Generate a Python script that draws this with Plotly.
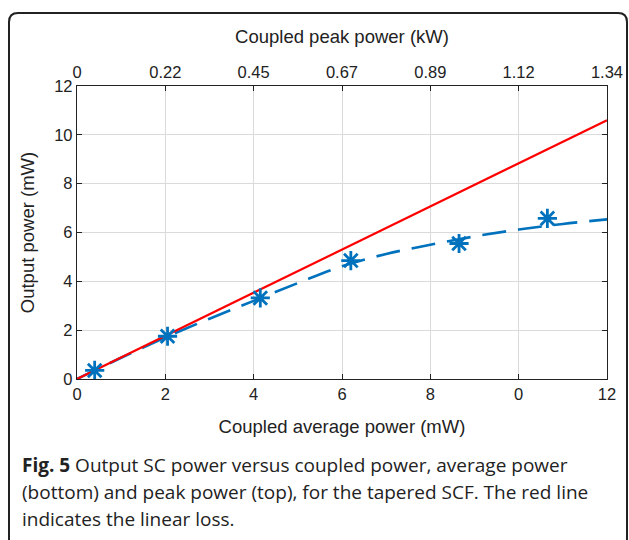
import plotly.graph_objects as go

# ---- data ----
avg_ticks = [0, 2, 4, 6, 8, 10, 12]
avg_ticktext = ["0", "2", "4", "6", "8", "0", "12"]
peak_ticktext = ["0", "0.22", "0.45", "0.67", "0.89", "1.12", "1.34"]
y_ticks = [0, 2, 4, 6, 8, 10, 12]

linear_x = [0, 12]
linear_y = [0, 10.6]

fit_x = [0, 1, 2, 3, 4, 5, 6, 7, 8, 9, 10, 11, 12]
fit_y = [0, 0.87, 1.70, 2.47, 3.20, 3.93, 4.62, 5.12, 5.50, 5.84, 6.12, 6.35, 6.54]

meas_x = [0.40, 2.05, 4.15, 6.20, 8.65, 10.65]
meas_y = [0.35, 1.75, 3.32, 4.85, 5.55, 6.58]

W, H = 629, 540
ML, MT = 77, 86
PW, PH = 530, 293.5
MR, MB = W - ML - PW, H - MT - PH

def px(sx):
    return (sx - ML) / PW

def py(sy):
    return (MT + PH - sy) / PH

BLUE = "#0072BD"
TICKFONT = dict(family="Liberation Sans, Arial, sans-serif", size=16.5, color="#222")
TITLEFONT = dict(family="Liberation Sans, Arial, sans-serif", size=18.5, color="#222")
CAPFONT = dict(family="Open Sans, Noto Sans, sans-serif", size=19, color="#222")

fig = go.Figure()
fig.add_trace(go.Scatter(x=fit_x, y=fit_y, mode="lines",
                         line=dict(color=BLUE, width=2.6, dash="24px,12px", shape="spline"),
                         showlegend=False, hoverinfo="skip"))
fig.add_trace(go.Scatter(x=linear_x, y=linear_y, mode="lines",
                         line=dict(color="#FF0000", width=2.2),
                         showlegend=False, hoverinfo="skip"))
fig.add_trace(go.Scatter(x=meas_x, y=meas_y, mode="markers",
                         marker=dict(symbol="asterisk-open", size=16, color=BLUE,
                                     line=dict(color=BLUE, width=2.8)),
                         showlegend=False))
# invisible trace to anchor top axis
fig.add_trace(go.Scatter(x=[0, 12], y=[0, 0], xaxis="x2", mode="lines",
                         line=dict(width=0), opacity=0, showlegend=False, hoverinfo="skip"))

# frame path (rounded rect), screen coords
xl, xr, yt, yb, r = 9, 627, 13, 560, 9
path = (f"M {px(xl)},{py(yb)} L {px(xl)},{py(yt + r)} "
        f"Q {px(xl)},{py(yt)} {px(xl + r)},{py(yt)} "
        f"L {px(xr - r)},{py(yt)} Q {px(xr)},{py(yt)} {px(xr)},{py(yt + r)} "
        f"L {px(xr)},{py(yb)}")

caption_lines = [
    "<b>Fig. 5</b> Output SC power versus coupled power, average power",
    "(bottom) and peak power (top), for the tapered SCF. The red line",
    "indicates the linear loss.",
]
caption_y = [466, 493, 520]

fig.update_layout(
    width=W, height=H, autosize=False,
    margin=dict(l=ML, r=MR, t=MT, b=MB, pad=0),
    paper_bgcolor="white", plot_bgcolor="white",
    xaxis=dict(range=[0, 12], tickvals=avg_ticks, ticktext=avg_ticktext,
               ticks="inside", ticklen=5, tickcolor="#222", automargin=False,
               showline=True, linecolor="#222", linewidth=1.3, mirror=True,
               showgrid=True, gridcolor="#dadada", gridwidth=1, zeroline=False,
               tickfont=TICKFONT,
               title=dict(text="Coupled average power (mW)", font=TITLEFONT, standoff=18)),
    xaxis2=dict(range=[0, 12], overlaying="x", side="top", anchor="y",
                tickvals=avg_ticks, ticktext=peak_ticktext, automargin=False,
                ticks="inside", ticklen=5, tickcolor="#222",
                showline=False, showgrid=False, zeroline=False,
                tickfont=TICKFONT, ticklabelstandoff=4,
                title=dict(text="Coupled peak power (kW)", font=TITLEFONT, standoff=14)),
    yaxis=dict(range=[0, 12], tickvals=y_ticks, automargin=False,
               ticks="inside", ticklen=5, tickcolor="#222",
               showline=True, linecolor="#222", linewidth=1.3, mirror="ticks",
               showgrid=True, gridcolor="#dadada", gridwidth=1, zeroline=False,
               tickfont=TICKFONT,
               title=dict(text="Output power (mW)", font=TITLEFONT, standoff=14)),
    shapes=[dict(type="path", path=path, xref="paper", yref="paper",
                 line=dict(color="#222", width=2))],
    annotations=[dict(text=t, xref="paper", yref="paper", x=px(20), y=py(cy),
                      xanchor="left", yanchor="middle", align="left", showarrow=False,
                      font=CAPFONT)
                 for t, cy in zip(caption_lines, caption_y)],
)

fig.write_html("out.html",
               config={"displayModeBar": False},
               post_script="document.body.style.margin='0px';"
                           "document.body.style.overflow='hidden';")
